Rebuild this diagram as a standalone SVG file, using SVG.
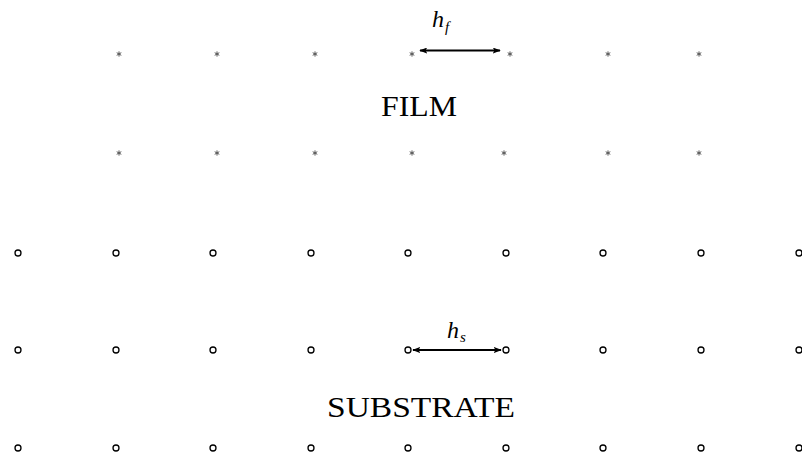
<svg xmlns="http://www.w3.org/2000/svg" width="802" height="461" viewBox="0 0 802 461">
<style>
.atom{fill:none;stroke:#000;stroke-width:1.3}
.ast{stroke:#555;stroke-width:1;fill:none}
.lbl{font-family:"Liberation Serif",serif;font-size:29px;fill:#000;text-anchor:middle}
.math{font-family:"Liberation Serif",serif;font-style:italic;font-size:24px;fill:#000}
.sub{font-family:"Liberation Serif",serif;font-style:italic;font-size:15px;fill:#000}
.dim{stroke:#000;stroke-width:2;marker-start:url(#ah);marker-end:url(#ah)}
</style>
<defs>
<marker id="ah" viewBox="0 0 10 10" refX="9" refY="5" markerWidth="8" markerHeight="6" orient="auto-start-reverse" markerUnits="userSpaceOnUse" preserveAspectRatio="none">
<path d="M0,0 L10,5 L0,10 L2,5 Z" fill="#000"/>
</marker>
<symbol id="star" viewBox="-3 -3 6 6" width="6" height="6" overflow="visible">
<path class="ast" d="M0,-2.6 V2.6 M-2.3,-1.3 L2.3,1.3 M-2.3,1.3 L2.3,-1.3"/>
</symbol>
</defs>
<rect width="802" height="461" fill="#fff"/>
<g id="film-row1">
<use href="#star" x="116" y="51"/>
<use href="#star" x="214" y="51"/>
<use href="#star" x="312" y="51"/>
<use href="#star" x="409" y="51"/>
<use href="#star" x="507" y="51"/>
<use href="#star" x="605" y="51"/>
<use href="#star" x="696" y="51"/>
</g>
<g id="film-row2">
<use href="#star" x="116" y="150"/>
<use href="#star" x="214" y="150"/>
<use href="#star" x="312" y="150"/>
<use href="#star" x="409" y="150"/>
<use href="#star" x="501" y="150"/>
<use href="#star" x="605" y="150"/>
<use href="#star" x="696" y="150"/>
</g>
<g id="substrate-row1">
<circle class="atom" cx="18" cy="253" r="3"/>
<circle class="atom" cx="116" cy="253" r="3"/>
<circle class="atom" cx="213" cy="253" r="3"/>
<circle class="atom" cx="311" cy="253" r="3"/>
<circle class="atom" cx="408" cy="253" r="3"/>
<circle class="atom" cx="506" cy="253" r="3"/>
<circle class="atom" cx="603" cy="253" r="3"/>
<circle class="atom" cx="701" cy="253" r="3"/>
<circle class="atom" cx="799" cy="253" r="3"/>
</g>
<g id="substrate-row2">
<circle class="atom" cx="18" cy="350" r="3"/>
<circle class="atom" cx="116" cy="350" r="3"/>
<circle class="atom" cx="213" cy="350" r="3"/>
<circle class="atom" cx="311" cy="350" r="3"/>
<circle class="atom" cx="408" cy="350" r="3"/>
<circle class="atom" cx="506" cy="350" r="3"/>
<circle class="atom" cx="603" cy="350" r="3"/>
<circle class="atom" cx="701" cy="350" r="3"/>
<circle class="atom" cx="799" cy="350" r="3"/>
</g>
<g id="substrate-row3">
<circle class="atom" cx="18" cy="448" r="3"/>
<circle class="atom" cx="116" cy="448" r="3"/>
<circle class="atom" cx="213" cy="448" r="3"/>
<circle class="atom" cx="311" cy="448" r="3"/>
<circle class="atom" cx="408" cy="448" r="3"/>
<circle class="atom" cx="506" cy="448" r="3"/>
<circle class="atom" cx="603" cy="448" r="3"/>
<circle class="atom" cx="701" cy="448" r="3"/>
<circle class="atom" cx="799" cy="448" r="3"/>
</g>
<g id="labels">
<text class="lbl" x="419" y="116" textLength="76" lengthAdjust="spacingAndGlyphs">FILM</text>
<text class="lbl" x="421" y="417" textLength="188" lengthAdjust="spacingAndGlyphs">SUBSTRATE</text>
<text class="math" x="432" y="27">h<tspan class="sub" dx="1" dy="5">f</tspan></text>
<text class="math" x="447" y="338">h<tspan class="sub" dx="1" dy="4">s</tspan></text>
</g>
<g id="connectors">
<line class="dim" x1="420" y1="50.5" x2="500" y2="50.5"/>
<line class="dim" x1="413" y1="350" x2="501" y2="350"/>
</g>
</svg>
